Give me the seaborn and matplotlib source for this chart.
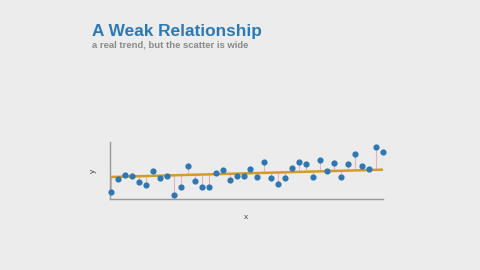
import numpy as np
import pandas as pd
import seaborn as sns
import matplotlib.pyplot as plt

# values (x = index, y = arbitrary units 0-10)
xs = list(range(1, 41))
ys = [1.18, 3.56, 4.21, 4.04, 3.04, 2.46, 4.86, 3.63, 4.04, 0.65,
      2.05, 5.84, 3.16, 2.11, 2.11, 4.61, 5.04, 3.33, 4.09, 4.09,
      5.35, 3.81, 6.54, 3.74, 2.58, 3.63, 5.39, 6.49, 6.14, 3.81,
      6.89, 4.96, 6.37, 3.81, 6.14, 7.89, 5.79, 5.26, 9.18, 8.25]
# trend line drawn in the reference (flatter than the scatter's own fit)
trend_intercept = 3.83
trend_slope = 0.033

title = "A Weak Relationship"
subtitle = "a real trend, but the scatter is wide"

df = pd.DataFrame({"x": xs, "y": ys})
df["trend"] = trend_intercept + trend_slope * df["x"]

bg = "#ececec"
sns.set_theme(style="white")
plt.rcParams['font.family'] = ['Liberation Sans', 'DejaVu Sans']

fig = plt.figure(figsize=(4.8, 2.7), dpi=100, facecolor=bg)
ax = fig.add_axes([0.229, 0.263, 0.569, 0.211])
ax.set_facecolor(bg)

# residual sticks from each point to the trend line
ax.vlines(df["x"], df["trend"], df["y"], color="#e6b4b8", lw=0.8, zorder=1)

sns.lineplot(data=df, x="x", y="trend", ax=ax, color="#d49a2a", lw=1.8, zorder=2)
sns.scatterplot(data=df, x="x", y="y", ax=ax, s=20, color="#2f77b1",
                linewidth=0, zorder=3, clip_on=False)

ax.set_xlim(0.85, 40)
ax.set_ylim(0, 10)
ax.set_xticks([])
ax.set_yticks([])
ax.set_xlabel("x", fontsize=6, color="#444444", labelpad=11)
ax.set_ylabel("y", fontsize=6, color="#444444", labelpad=9)
sns.despine(ax=ax)
for s in ["left", "bottom"]:
    ax.spines[s].set_color("#999999")
    ax.spines[s].set_linewidth(1.0)

fig.text(0.192, 0.882, title, fontsize=12.4, fontweight="bold", color="#2a7ab8", va="center")
fig.text(0.192, 0.833, subtitle, fontsize=6.8, fontweight="bold", color="#8a8a8a", va="center")

fig.savefig("out.png", dpi=100, facecolor=bg)
